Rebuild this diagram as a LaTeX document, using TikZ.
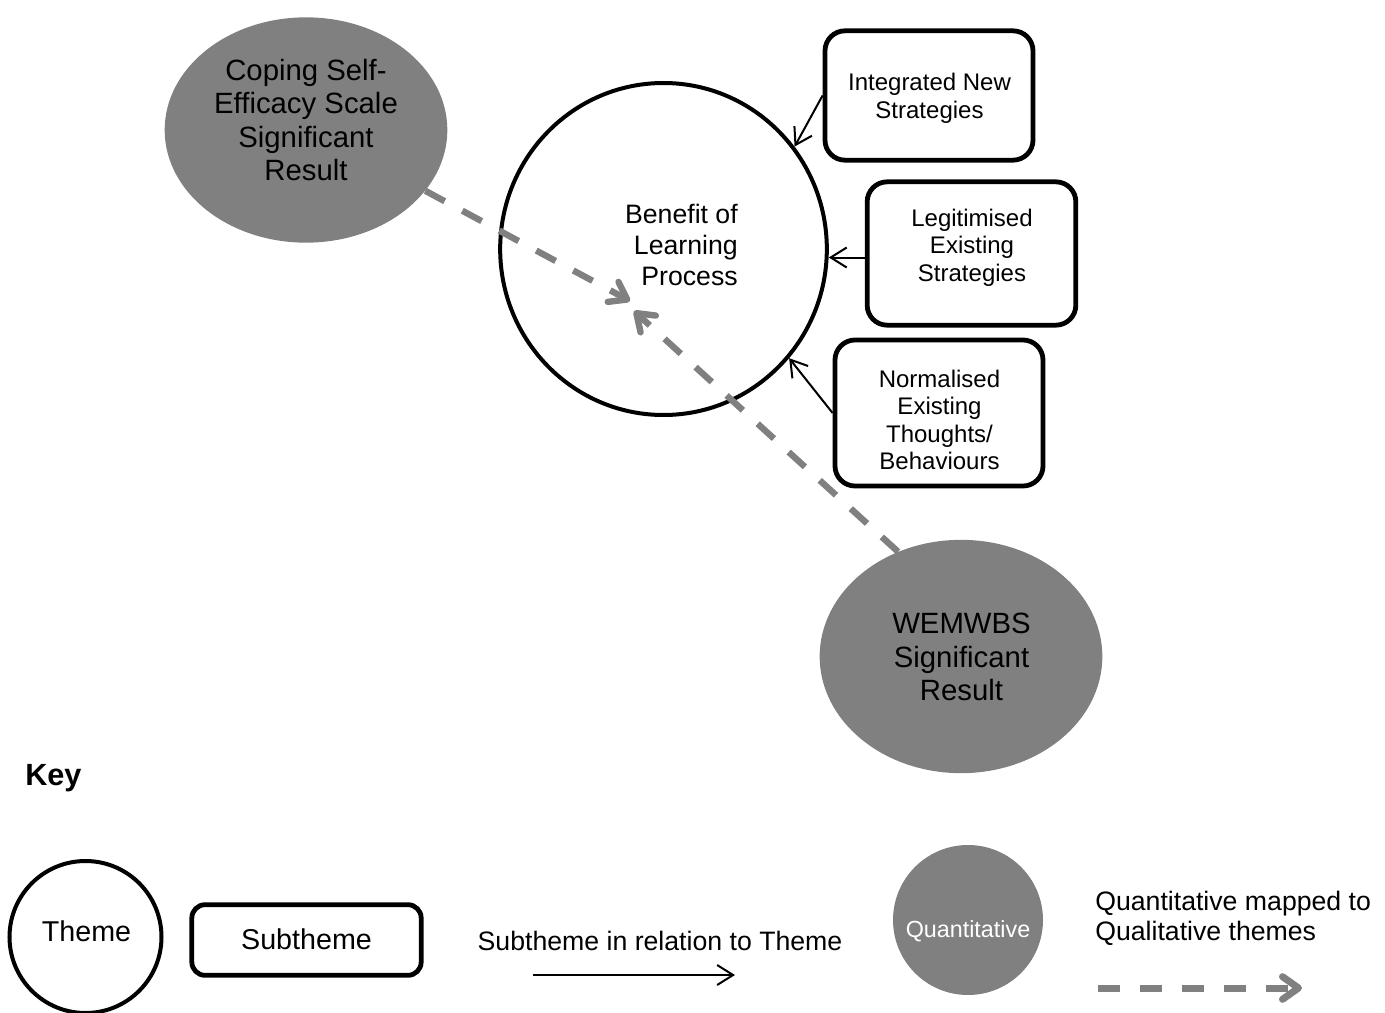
\documentclass[tikz,border=0pt]{standalone}
\usepackage{fontspec}
\setmainfont{Liberation Sans}
\usetikzlibrary{shapes.geometric,arrows.meta}
\definecolor{quantgray}{RGB}{128,128,128}
\newcommand{\fsz}[2]{\fontsize{#1}{#2}\selectfont}

\begin{document}
\begin{tikzpicture}[x=0.75pt,y=-0.75pt,
  themeshape/.style={draw=black,line width=3pt,ellipse,inner sep=0pt},
  quantshape/.style={fill=quantgray,draw=none,ellipse,inner sep=0pt},
  subbox/.style={draw=black,line width=3.6pt,rounded corners=15pt,inner sep=0pt},
  txt/.style={align=center,inner sep=0pt,text=black},
  relarrow/.style={draw=black,line width=1.5pt,-{Straight Barb[length=12pt,width=15pt]}},
  maparrow/.style={draw=quantgray,line width=4.8pt,dash pattern=on 16.5pt off 15pt,
                   -{Straight Barb[length=12pt,width=17pt,round]}},
]
\useasboundingbox (0,0) rectangle (1385,1013);

% central theme
\node[themeshape,minimum width=245pt,minimum height=249pt] (benefit) at (663.5,249) {};
\node[txt,anchor=east,align=right,font=\fsz{20}{23.25}] (benefittxt) at (738,245) {Benefit of\\Learning\\Process};

% quantitative results
\node[quantshape,minimum width=212pt,minimum height=169pt] (coping) at (306,130) {};
\node[txt,font=\fsz{22}{25}] (copingtxt) at (306,120) {Coping Self-\\Efficacy Scale\\Significant\\Result};
\node[quantshape,minimum width=212pt,minimum height=175pt] (wem) at (961,656.5) {};
\node[txt,font=\fsz{22}{25}] (wemtxt) at (961.5,657) {WEMWBS\\Significant\\Result};

% subthemes
\node[subbox,minimum width=156pt,minimum height=97pt] (integ) at (929,95.5) {};
\node[txt,font=\fsz{18}{21}] (integtxt) at (929.5,98) {Integrated New\\Strategies};
\node[subbox,minimum width=156.5pt,minimum height=107.5pt] (legit) at (971.5,253.5) {};
\node[txt,font=\fsz{18}{20.5}] (legittxt) at (972,247.5) {Legitimised\\Existing\\Strategies};
\node[subbox,minimum width=156pt,minimum height=109.5pt] (norm) at (939,413) {};
\node[txt,font=\fsz{18}{20.5}] (normtxt) at (939.5,420) {Normalised\\Existing\\Thoughts/\\Behaviours};

% subtheme connectors
\draw[relarrow] (integ.west) -- (benefit.38);
\draw[relarrow] ([yshift=-3pt]legit.west) -- ([yshift=-3pt]legit.west -| benefit.east);
\draw[relarrow] (norm.west) -- (benefit.-41);

% quantitative to qualitative mapping
\coordinate (meetA) at (630,301);
\coordinate (meetB) at (634,311);
\draw[maparrow] (coping.-27) -- (meetA);
\draw[maparrow] (wem.121) -- (meetB);

% key
\node[anchor=west,inner sep=0pt,font=\bfseries\fsz{23}{26}] (key) at (25,778) {Key};

\node[themeshape,minimum size=114pt] (ktheme) at (85.5,937) {};
\node[txt,font=\fsz{21.5}{24}] (kthemetxt) at (86.5,931) {Theme};

\node[subbox,line width=3.6pt,rounded corners=10pt,minimum width=172pt,minimum height=53pt] (ksub) at (306.5,940) {};
\node[txt,font=\fsz{21.5}{24}] (ksubtxt) at (306.5,939) {Subtheme};

\node[txt,font=\fsz{20}{23}] (krel) at (660,941) {Subtheme in relation to Theme};
\coordinate (krelA) at (533,975);
\coordinate (krelB) at (735,975);
\draw[relarrow] (krelA) -- (krelB);

\node[quantshape,minimum size=112.5pt] (kquant) at (968,920) {};
\node[txt,text=white,font=\fsz{17.5}{20}] (kquanttxt) at (968,931) {Quantitative};

\node[anchor=north west,align=left,inner sep=0pt,font=\fsz{20}{22.5}] (kmap) at (1095,891) {Quantitative mapped to\\Qualitative themes};
\coordinate (kmapA) at (1098,988);
\coordinate (kmapB) at (1302,988);
\draw[maparrow,line width=5.25pt] (kmapA) -- (kmapB);
\end{tikzpicture}
\end{document}
